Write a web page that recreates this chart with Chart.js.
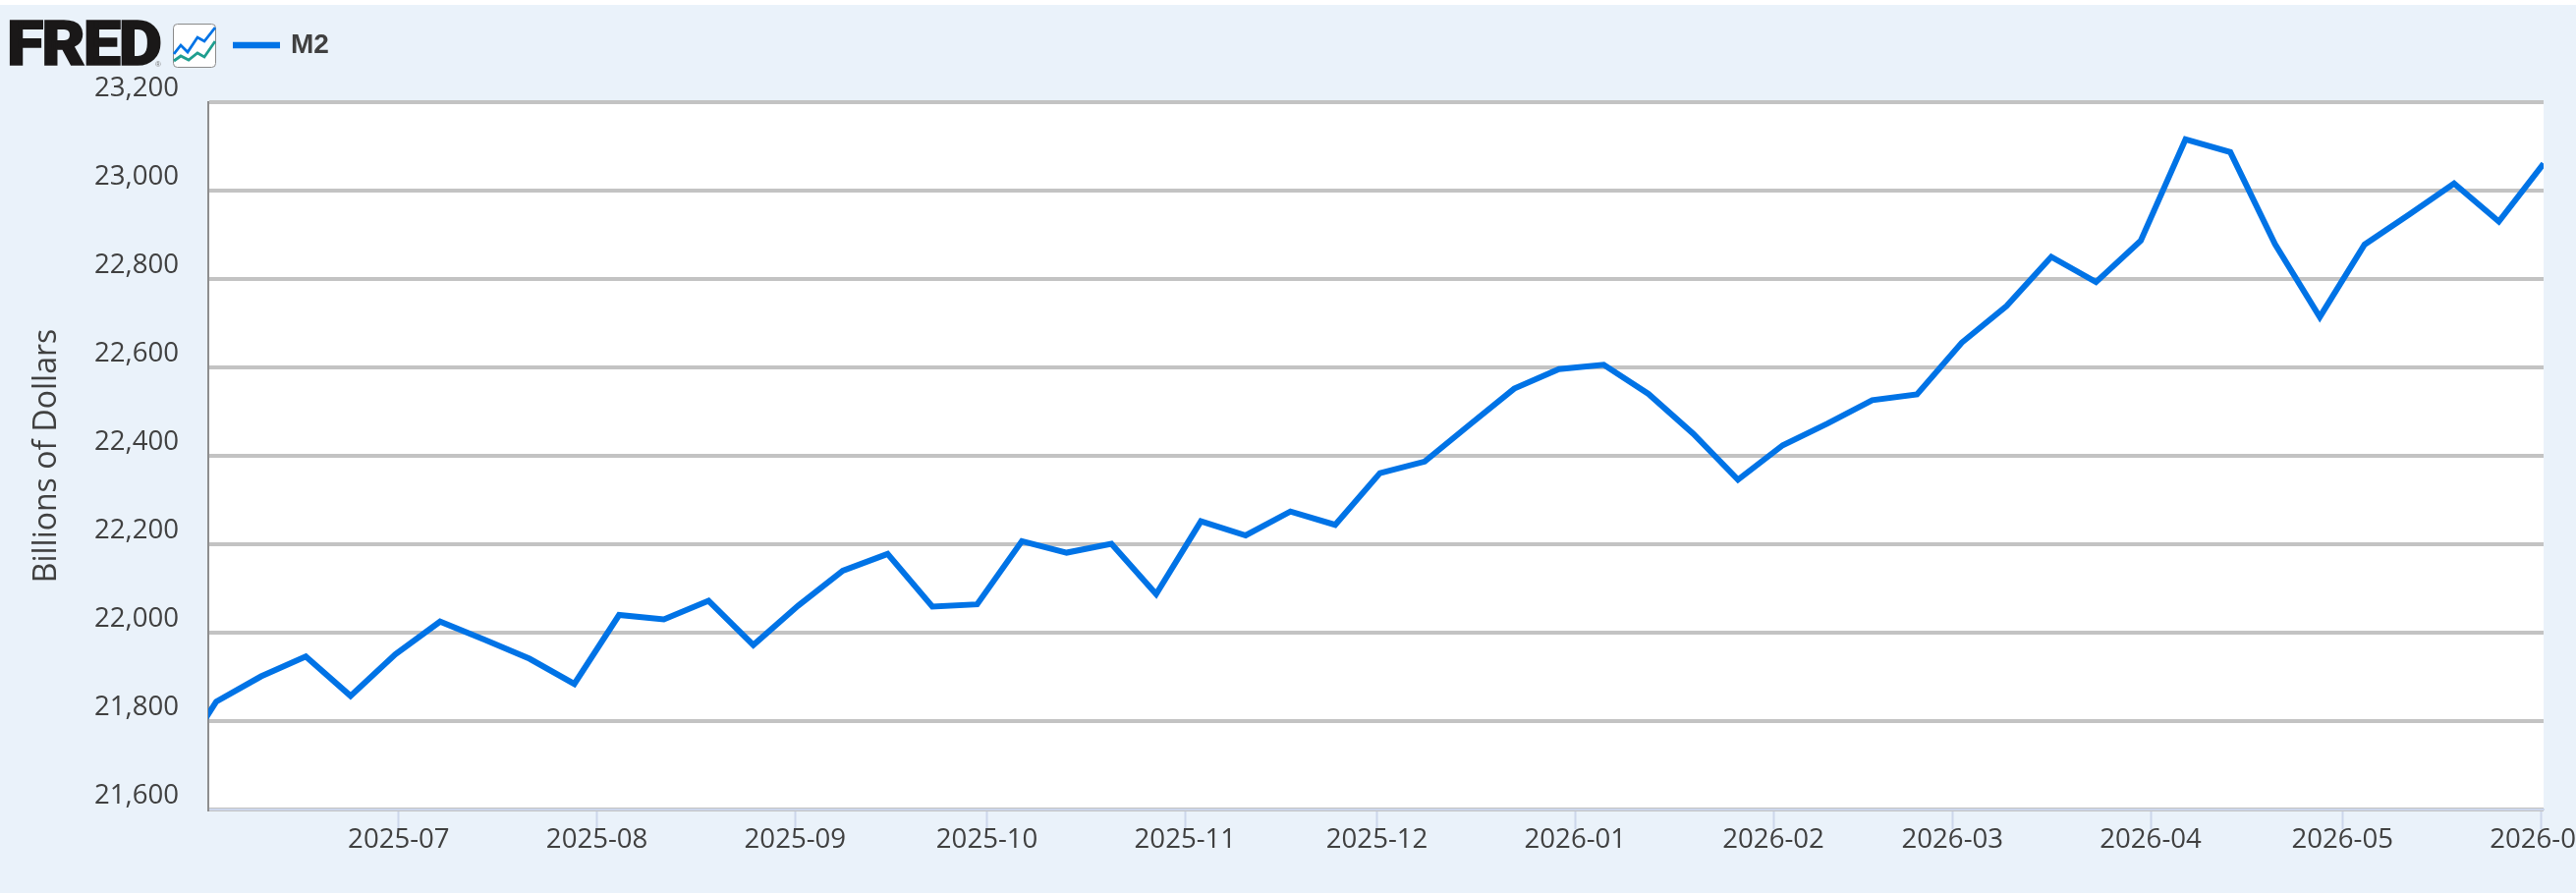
<!DOCTYPE html>
<html>
<head>
    <meta charset="utf-8">
    <title>FRED M2</title>
    <script src="https://cdn.jsdelivr.net/npm/chart.js@4/dist/chart.umd.min.js"></script>
    <style>
        html, body { margin: 0; padding: 0; background: #fff; overflow: hidden; }
        #frame { position: absolute; left: 0; top: 5px; width: 2622px; height: 904px; background: #eaf2fa; }
        #myChart { position: absolute; left: 0; top: 0; }
        #logo { position: absolute; left: 7px; top: 9px; font: 900 63px/72px Roboto, sans-serif; color: #1a1818; letter-spacing: -2px; -webkit-text-stroke: 1.5px #1a1818; transform: scaleX(1.085); transform-origin: left top; }
        #reg { position: absolute; left: 158px; top: 61px; font: 8px "Liberation Sans", sans-serif; color: #777; }
        #icon { position: absolute; left: 176px; top: 24px; }
    </style>
</head>
<body>
    <div id="frame"></div>
    <canvas id="myChart" width="2622" height="909"></canvas>
    <div id="logo">FRED</div>
    <div id="reg">®</div>
    <svg id="icon" width="44" height="45" viewBox="0 0 44 45">
        <rect x="0.5" y="0.5" width="43" height="44" rx="4" fill="#fff" stroke="#8a8a8a"/>
        <polyline points="1,31 8,22 15,29 25,14 32,18 43,4" fill="none" stroke="#0073e6" stroke-width="2.8"/>
        <polyline points="1,38 8,33 16,37 25,30 32,34 43,18" fill="none" stroke="#1f9e8f" stroke-width="2.8"/>
    </svg>
    <script type="text/javascript">
        const weekDates = [
            '2025-05-26', '2025-06-02', '2025-06-09', '2025-06-16', '2025-06-23', '2025-06-30',
            '2025-07-07', '2025-07-14', '2025-07-21', '2025-07-28',
            '2025-08-04', '2025-08-11', '2025-08-18', '2025-08-25',
            '2025-09-01', '2025-09-08', '2025-09-15', '2025-09-22', '2025-09-29',
            '2025-10-06', '2025-10-13', '2025-10-20', '2025-10-27',
            '2025-11-03', '2025-11-10', '2025-11-17', '2025-11-24',
            '2025-12-01', '2025-12-08', '2025-12-15', '2025-12-22', '2025-12-29',
            '2026-01-05', '2026-01-12', '2026-01-19', '2026-01-26',
            '2026-02-02', '2026-02-09', '2026-02-16', '2026-02-23',
            '2026-03-02', '2026-03-09', '2026-03-16', '2026-03-23', '2026-03-30',
            '2026-04-06', '2026-04-13', '2026-04-20', '2026-04-27',
            '2026-05-04', '2026-05-11', '2026-05-18', '2026-05-25',
            '2026-06-01'];
        const m2Values = [
            21686, 21844, 21901, 21946, 21857, 21951,
            22025, 21984, 21941, 21884,
            22040, 22030, 22072, 21972,
            22061, 22140, 22178, 22059, 22064,
            22207, 22181, 22201, 22087,
            22252, 22220, 22274, 22244,
            22361, 22387, 22470, 22552, 22596,
            22606, 22540, 22450, 22346,
            22424, 22473, 22526, 22539,
            22656, 22739, 22850, 22793, 22887,
            23116, 23087, 22879, 22714,
            22878, 22946, 23016, 22930,
            23061];
        const monthTicks = [
            '2025-07', '2025-08', '2025-09', '2025-10', '2025-11', '2025-12',
            '2026-01', '2026-02', '2026-03', '2026-04', '2026-05', '2026-06'];

        const tickFont = { family: '"Open Sans"', size: 27.6, lineHeight: 0.985 };
        const titleFont = { family: '"Open Sans"', size: 32 };
        const textColor = '#404040';

        function monthTime(m) {
            return Date.parse(m + '-01T00:00:00Z');
        }

        // plot background and legend spot, the legend sits up next to the logo
        const framePlugin = {
            id: 'frame',
            afterLayout(chart) {
                const l = chart.legend;
                l.left = 237;
                l.right = 400;
                l.top = 32;
                l.bottom = 70;
            },
            beforeDraw(chart) {
                const a = chart.chartArea;
                chart.ctx.save();
                chart.ctx.fillStyle = '#fff';
                chart.ctx.fillRect(a.left, a.top, a.right - a.left, a.bottom - a.top);
                chart.ctx.restore();
            }
        };

        new Chart(document.getElementById('myChart'), {
            type: 'line',
            data: {
                datasets: [{
                    label: 'M2',
                    data: weekDates.map((d, i) => ({ x: Date.parse(d + 'T11:00:00Z'), y: m2Values[i] })),
                    borderColor: '#0073e6',
                    backgroundColor: '#0073e6',
                    borderWidth: 6,
                    pointRadius: 0,
                    tension: 0,
                    clip: 0
                }]
            },
            options: {
                responsive: false,
                animation: false,
                devicePixelRatio: 1,
                layout: { padding: { top: 104, right: 33, left: 0, bottom: 0 } },
                plugins: {
                    tooltip: { enabled: false },
                    legend: {
                        position: 'chartArea',
                        align: 'start',
                        labels: {
                            boxWidth: 45,
                            boxHeight: 0.5,
                            padding: 0,
                            color: textColor,
                            font: { family: '"Liberation Sans"', size: 28, weight: 'bold' }
                        }
                    }
                },
                scales: {
                    x: {
                        type: 'linear',
                        min: Date.UTC(2025, 5, 1, 5),
                        max: Date.UTC(2026, 5, 1, 11),
                        afterBuildTicks(axis) {
                            axis.ticks = monthTicks.map(m => ({ value: monthTime(m) }));
                        },
                        afterFit(axis) {
                            axis.height = 85;
                            axis.paddingLeft = 0;
                            axis.paddingRight = 0;
                        },
                        grid: { drawOnChartArea: false, color: '#ccd6eb', tickLength: 20, tickColor: '#ccd6eb', tickWidth: 2 },
                        border: { color: '#ccd6eb', width: 2 },
                        ticks: {
                            autoSkip: false,
                            maxRotation: 0,
                            padding: -2,
                            color: textColor,
                            font: tickFont,
                            callback: value => monthTicks.find(m => monthTime(m) === value)
                        }
                    },
                    y: {
                        min: 21600,
                        max: 23200,
                        afterFit(axis) {
                            axis.width = 212;
                            axis.paddingTop = 0;
                            axis.paddingBottom = 0;
                        },
                        grid: { color: '#c3c3c3', lineWidth: 4, drawTicks: false },
                        border: { color: '#8e8e8e', width: 2 },
                        title: {
                            display: true,
                            text: 'Billions of Dollars',
                            color: textColor,
                            font: titleFont,
                            padding: { top: 28.5, bottom: 0 }
                        },
                        ticks: {
                            stepSize: 200,
                            padding: 30,
                            color: textColor,
                            font: tickFont,
                            // blank second line lifts the label above its grid line, like FRED does
                            callback: value => [value.toLocaleString('en-US'), '']
                        }
                    }
                }
            },
            plugins: [framePlugin]
        });
    </script>
</body>
</html>
